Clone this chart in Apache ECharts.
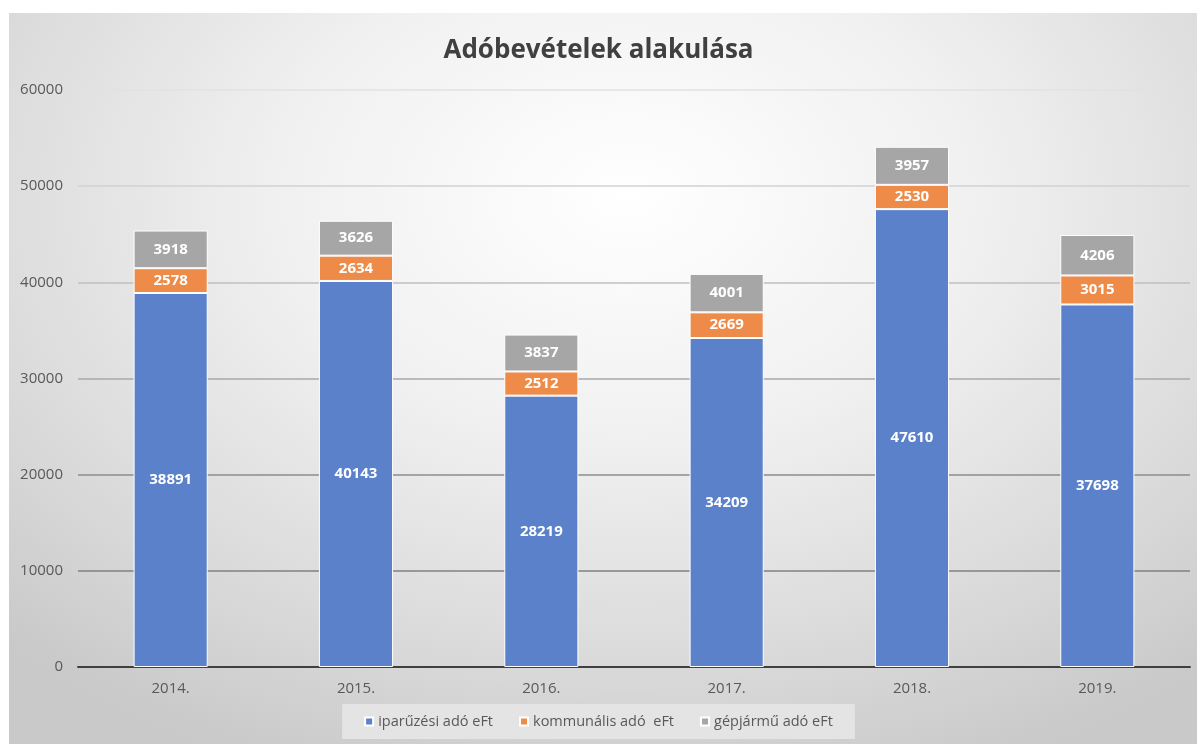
<!DOCTYPE html>
<html>
<head>
<meta charset="utf-8">
<script src="https://cdn.jsdelivr.net/npm/echarts@6/dist/echarts.min.js"></script>
<style>
html,body{margin:0;padding:0;background:#fff;}
#bg{position:absolute;left:9px;top:13px;width:1188px;height:731px;
background:radial-gradient(ellipse 75% 85% at 52% 25%, #ffffff 0%, #f0f0f0 40%, #dadada 75%, #c9c9c9 100%);}
#chart{position:absolute;left:0;top:0;width:1197px;height:744px;}
</style>
</head>
<body>
<div id="bg"></div>
<div id="chart"></div>
<script>
const categories = ['2014.', '2015.', '2016.', '2017.', '2018.', '2019.'];
const iparuzesi = [38891, 40143, 28219, 34209, 47610, 37698];
const kommunalis = [2578, 2634, 2512, 2669, 2530, 3015];
const gepjarmu = [3918, 3626, 3837, 4001, 3957, 4206];
const seriesNames = ['iparűzési adó eFt', 'kommunális adó  eFt', 'gépjármű adó eFt'];
const colors = ['#5a81c9', '#ee8b48', '#a6a6a6'];

const chart = echarts.init(document.getElementById('chart'), null, {renderer: 'canvas'});
const labelStyle = {show: true, color: '#ffffff', fontWeight: 'bold', fontSize: 15, fontFamily: 'Open Sans, sans-serif'};
function mk(name, data, color) {
  return {
    name: name, type: 'bar', stack: 'total', data: data, barWidth: '40%',
    itemStyle: {color: color, borderColor: '#ffffff', borderWidth: 1},
    label: labelStyle
  };
}
chart.setOption({
  backgroundColor: 'transparent',
  animation: false,
  color: colors,
  title: {
    text: 'Adóbevételek alakulása', left: 'center', top: 33,
    textStyle: {fontFamily: 'Open Sans, sans-serif', fontSize: 26, fontWeight: 'bold', color: '#404040'}
  },
  grid: {left: 78, right: 7, top: 90, bottom: 77},
  xAxis: {
    type: 'category', data: categories,
    axisLine: {lineStyle: {color: '#404040', width: 2}},
    axisTick: {show: false},
    axisLabel: {color: '#595959', fontSize: 15, margin: 14, fontFamily: 'Open Sans, sans-serif'}
  },
  yAxis: {
    type: 'value', min: 0, max: 60000, interval: 10000,
    axisLine: {show: false}, axisTick: {show: false},
    axisLabel: {color: '#595959', fontSize: 15, margin: 15, fontFamily: 'Open Sans, sans-serif',
      formatter: function (v) { return String(v); }},
    splitLine: {lineStyle: {width: 1.5, color: ['#404040', '#808080', '#8c8c8c', '#a8a8a8', '#bfbfbf', '#d2d2d2', '#e2e2e2']}}
  },
  legend: {
    bottom: 5, left: 'center',
    backgroundColor: '#e4e4e4',
    padding: [10, 22, 10, 22],
    itemWidth: 8, itemHeight: 8, itemGap: 26, icon: 'rect',
    textStyle: {color: '#595959', fontSize: 14.5, fontFamily: 'Open Sans, sans-serif'},
    data: seriesNames
  },
  series: [
    mk(seriesNames[0], iparuzesi, colors[0]),
    mk(seriesNames[1], kommunalis, colors[1]),
    mk(seriesNames[2], gepjarmu, colors[2])
  ]
});
</script>
</body>
</html>
